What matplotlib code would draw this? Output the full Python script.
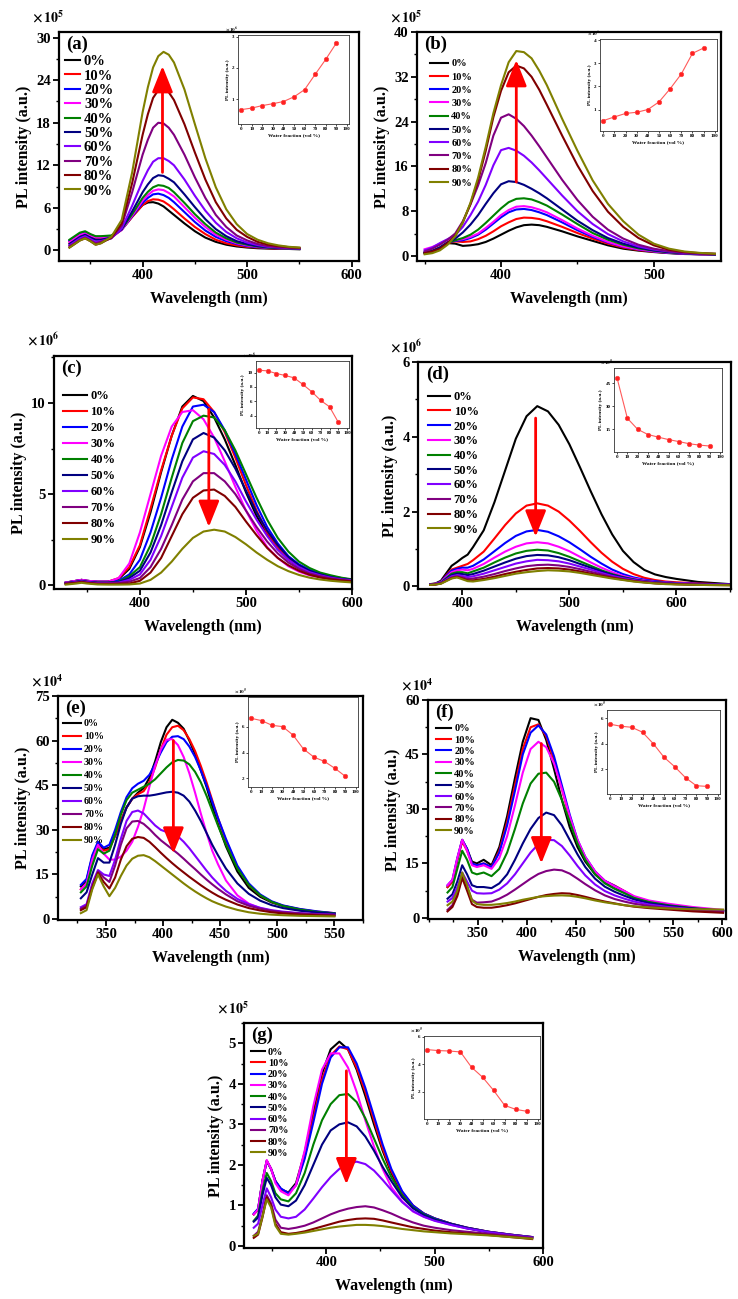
import matplotlib
matplotlib.use('Agg')
import matplotlib.pyplot as plt
from matplotlib.ticker import MultipleLocator, FixedLocator

plt.rcParams['font.family'] = ['Liberation Serif', 'DejaVu Serif']
plt.rcParams['font.weight'] = 'bold'
plt.rcParams['axes.labelweight'] = 'bold'
plt.rcParams['mathtext.fontset'] = 'stix'

W, H = 738, 1299

fractions = ['0%', '10%', '20%', '30%', '40%', '50%', '60%', '70%', '80%', '90%']
water = [0, 10, 20, 30, 40, 50, 60, 70, 80, 90]
colors = ['#000000', '#ff0000', '#0000ff', '#ff00ff', '#008000',
          '#000080', '#8000ff', '#800080', '#800000', '#808000']

# ---- panel (a), x 1e5 ----
wl_a = [330, 335, 340, 345, 350, 355, 360, 370, 380, 390, 400, 405, 410, 415, 420, 425,
        430, 440, 450, 460, 470, 480, 490, 500, 510, 520, 530, 540, 550]
spec_a = [
    [1.3, 1.8, 2.3, 2.5, 2.2, 1.9, 1.9, 2.0, 3.0, 4.8, 6.4, 6.75, 6.8, 6.6, 6.2, 5.6, 5.0, 3.8, 2.7, 1.8, 1.2, 0.8, 0.55, 0.4, 0.3, 0.25, 0.2, 0.2, 0.15],
    [1.0, 1.5, 2.0, 2.2, 1.9, 1.6, 1.6, 1.8, 2.9, 4.7, 6.4, 6.95, 7.2, 7.15, 6.9, 6.4, 5.8, 4.5, 3.3, 2.3, 1.5, 1.0, 0.7, 0.5, 0.4, 0.3, 0.25, 0.2, 0.2],
    [1.4, 1.9, 2.3, 2.5, 2.2, 1.9, 1.9, 2.0, 2.9, 4.8, 6.7, 7.4, 7.9, 8.0, 7.8, 7.4, 6.8, 5.4, 4.0, 2.8, 1.9, 1.3, 0.9, 0.6, 0.45, 0.35, 0.3, 0.25, 0.2],
    [1.2, 1.7, 2.2, 2.4, 2.1, 1.8, 1.8, 1.9, 2.9, 4.9, 7.0, 7.8, 8.4, 8.6, 8.5, 8.1, 7.6, 6.1, 4.6, 3.3, 2.2, 1.5, 1.0, 0.7, 0.5, 0.4, 0.3, 0.25, 0.2],
    [1.5, 2.0, 2.5, 2.7, 2.3, 2.0, 2.0, 2.1, 3.0, 5.1, 7.4, 8.25, 8.9, 9.2, 9.1, 8.8, 8.2, 6.7, 5.1, 3.7, 2.5, 1.7, 1.1, 0.8, 0.55, 0.4, 0.3, 0.25, 0.2],
    [0.9, 1.4, 1.9, 2.2, 1.8, 1.5, 1.5, 1.8, 3.0, 5.5, 8.2, 9.3, 10.2, 10.6, 10.5, 10.1, 9.6, 7.9, 6.1, 4.4, 3.0, 2.0, 1.3, 0.9, 0.6, 0.45, 0.35, 0.3, 0.25],
    [0.7, 1.2, 1.7, 2.0, 1.6, 1.2, 1.3, 1.7, 3.1, 6.3, 9.8, 11.3, 12.5, 13.0, 13.0, 12.6, 12.0, 10.0, 7.7, 5.6, 3.9, 2.6, 1.7, 1.1, 0.75, 0.5, 0.4, 0.3, 0.25],
    [0.6, 1.0, 1.5, 1.8, 1.4, 1.0, 1.2, 1.7, 3.5, 8.2, 13.5, 15.6, 17.3, 18.0, 17.9, 17.3, 16.3, 13.5, 10.3, 7.4, 5.0, 3.3, 2.1, 1.4, 0.9, 0.6, 0.45, 0.35, 0.3],
    [0.4, 0.9, 1.4, 1.7, 1.3, 0.8, 1.0, 1.8, 3.8, 9.5, 16.3, 19.2, 21.5, 22.6, 22.8, 22.3, 21.2, 17.8, 13.8, 10.0, 6.8, 4.5, 2.9, 1.9, 1.2, 0.8, 0.6, 0.45, 0.35],
    [0.4, 0.9, 1.4, 1.7, 1.3, 0.8, 1.0, 1.9, 4.3, 11.0, 19.5, 23.0, 25.8, 27.4, 28.0, 27.6, 26.5, 22.7, 17.8, 13.0, 8.9, 5.8, 3.7, 2.3, 1.5, 1.0, 0.7, 0.5, 0.4],
]
inset_a = [0.66, 0.71, 0.79, 0.85, 0.92, 1.07, 1.30, 1.79, 2.27, 2.79]
arrow_a = (419, 11.0, 26.0)

# ---- panel (b), x 1e5 ----
wl_b = [350, 355, 360, 365, 370, 375, 380, 385, 390, 395, 400, 405, 410, 415, 420, 425,
        430, 440, 450, 460, 470, 480, 490, 500, 510, 520, 530, 540]
spec_b = [
    [0.5, 0.8, 1.4, 2.3, 2.2, 1.8, 1.9, 2.1, 2.5, 3.1, 3.8, 4.5, 5.1, 5.5, 5.6, 5.5, 5.2, 4.4, 3.5, 2.7, 1.9, 1.3, 0.95, 0.7, 0.5, 0.35, 0.3, 0.25],
    [0.5, 0.8, 1.4, 2.3, 2.6, 2.5, 2.6, 3.0, 3.6, 4.4, 5.3, 6.0, 6.6, 6.85, 6.8, 6.6, 6.2, 5.2, 4.1, 3.1, 2.2, 1.5, 1.05, 0.75, 0.55, 0.4, 0.3, 0.25],
    [0.6, 0.9, 1.5, 2.4, 2.7, 2.8, 3.2, 3.8, 4.7, 5.8, 6.9, 7.8, 8.3, 8.4, 8.2, 7.8, 7.3, 6.0, 4.6, 3.4, 2.4, 1.65, 1.15, 0.8, 0.55, 0.4, 0.3, 0.25],
    [1.2, 1.6, 2.2, 2.9, 2.8, 3.0, 3.4, 4.0, 5.0, 6.1, 7.3, 8.2, 8.8, 8.9, 8.7, 8.3, 7.8, 6.4, 4.9, 3.6, 2.5, 1.7, 1.2, 0.85, 0.6, 0.45, 0.35, 0.3],
    [0.6, 0.9, 1.5, 2.4, 2.8, 3.2, 3.8, 4.7, 5.9, 7.2, 8.5, 9.6, 10.2, 10.3, 10.1, 9.6, 9.0, 7.4, 5.7, 4.1, 2.9, 2.0, 1.35, 0.95, 0.65, 0.5, 0.4, 0.3],
    [0.6, 0.9, 1.5, 2.4, 3.1, 4.2, 5.6, 7.3, 9.3, 11.2, 12.8, 13.35, 13.2, 12.7, 12.0, 11.2, 10.3, 8.3, 6.3, 4.6, 3.2, 2.2, 1.5, 1.0, 0.7, 0.5, 0.4, 0.3],
    [1.0, 1.5, 2.3, 3.0, 3.7, 5.2, 7.3, 9.7, 12.7, 16.2, 18.9, 19.3, 18.8, 17.9, 16.7, 15.3, 13.8, 10.8, 8.0, 5.7, 3.9, 2.6, 1.7, 1.15, 0.8, 0.55, 0.4, 0.35],
    [0.8, 1.3, 2.0, 2.9, 4.0, 6.2, 9.2, 12.6, 16.6, 21.5, 24.7, 25.3, 24.5, 23.2, 21.5, 19.6, 17.6, 13.6, 10.0, 7.0, 4.7, 3.1, 2.0, 1.3, 0.85, 0.6, 0.45, 0.35],
    [0.5, 0.8, 1.3, 2.3, 3.6, 6.0, 9.3, 13.5, 18.8, 24.8, 29.5, 32.8, 34.0, 33.5, 32.0, 29.7, 27.0, 21.5, 16.2, 11.6, 7.9, 5.2, 3.2, 1.9, 1.1, 0.7, 0.5, 0.4],
    [0.3, 0.5, 1.0, 2.0, 3.5, 6.0, 9.5, 14.0, 19.5, 25.5, 30.5, 34.6, 36.6, 36.4, 35.3, 33.1, 30.5, 24.5, 18.8, 13.5, 9.3, 6.2, 3.8, 2.2, 1.3, 0.8, 0.55, 0.4],
]
inset_b = [0.52, 0.68, 0.83, 0.88, 1.0, 1.33, 1.9, 2.54, 3.43, 3.66]
arrow_b = (410, 13.2, 35.0)

# ---- panel (c), x 1e6 ----
wl_c = [330, 340, 345, 350, 360, 370, 380, 390, 400, 410, 420, 430, 440, 450, 460,
        470, 480, 490, 500, 510, 520, 530, 540, 550, 560, 570, 580, 590, 600]
spec_c = [
    [0.15, 0.25, 0.3, 0.25, 0.2, 0.2, 0.35, 0.9, 2.1, 4.0, 6.2, 8.2, 9.8, 10.38, 10.1, 9.2, 8.0, 6.6, 5.1, 3.8, 2.8, 2.0, 1.4, 1.0, 0.75, 0.6, 0.45, 0.35, 0.3],
    [0.15, 0.25, 0.3, 0.25, 0.2, 0.2, 0.4, 1.0, 2.2, 4.2, 6.3, 8.2, 9.7, 10.3, 10.2, 9.5, 8.4, 7.0, 5.5, 4.1, 2.9, 2.1, 1.5, 1.05, 0.8, 0.6, 0.45, 0.35, 0.3],
    [0.15, 0.25, 0.3, 0.25, 0.2, 0.2, 0.25, 0.6, 1.4, 2.9, 4.8, 6.9, 8.7, 9.8, 9.9, 9.5, 8.5, 7.2, 5.8, 4.4, 3.2, 2.3, 1.6, 1.15, 0.85, 0.65, 0.5, 0.4, 0.3],
    [0.15, 0.25, 0.3, 0.25, 0.2, 0.2, 0.4, 1.2, 2.9, 5.0, 7.1, 8.7, 9.5, 9.6, 9.1, 8.1, 6.8, 5.4, 4.1, 3.0, 2.1, 1.5, 1.05, 0.75, 0.55, 0.45, 0.35, 0.3, 0.25],
    [0.12, 0.2, 0.25, 0.2, 0.15, 0.15, 0.2, 0.5, 1.0, 2.2, 3.9, 5.9, 7.8, 9.0, 9.3, 9.2, 8.5, 7.4, 6.1, 4.8, 3.6, 2.6, 1.85, 1.3, 0.95, 0.7, 0.55, 0.42, 0.33],
    [0.12, 0.2, 0.25, 0.2, 0.15, 0.15, 0.18, 0.4, 0.8, 1.8, 3.3, 5.1, 6.8, 8.0, 8.35, 8.1, 7.4, 6.4, 5.2, 4.0, 3.0, 2.2, 1.55, 1.1, 0.8, 0.6, 0.45, 0.35, 0.3],
    [0.1, 0.18, 0.22, 0.18, 0.12, 0.12, 0.15, 0.3, 0.6, 1.4, 2.7, 4.3, 5.9, 7.0, 7.35, 7.2, 6.6, 5.7, 4.6, 3.6, 2.7, 1.95, 1.4, 1.0, 0.72, 0.55, 0.42, 0.33, 0.28],
    [0.1, 0.15, 0.2, 0.15, 0.1, 0.1, 0.12, 0.2, 0.4, 1.0, 2.0, 3.3, 4.7, 5.7, 6.15, 6.15, 5.7, 5.0, 4.1, 3.2, 2.4, 1.75, 1.25, 0.9, 0.65, 0.5, 0.38, 0.3, 0.25],
    [0.08, 0.14, 0.18, 0.14, 0.08, 0.08, 0.08, 0.1, 0.25, 0.7, 1.5, 2.7, 3.9, 4.8, 5.2, 5.25, 4.9, 4.3, 3.5, 2.75, 2.05, 1.5, 1.1, 0.8, 0.58, 0.43, 0.33, 0.27, 0.22],
    [0.04, 0.1, 0.14, 0.1, 0.05, 0.04, 0.04, 0.05, 0.1, 0.3, 0.7, 1.3, 2.0, 2.6, 2.95, 3.05, 2.95, 2.65, 2.25, 1.8, 1.4, 1.05, 0.78, 0.57, 0.42, 0.32, 0.25, 0.2, 0.16],
]
inset_c = [10.32, 10.23, 9.86, 9.59, 9.26, 8.34, 7.33, 6.13, 5.25, 3.08]
arrow_c = (465, 9.65, 3.2)

# ---- panel (d), x 1e6 ----
wl_d = [370, 375, 380, 385, 390, 395, 400, 405, 410, 420, 430, 440, 450, 460, 470,
        480, 490, 500, 510, 520, 530, 540, 550, 560, 570, 580, 590, 600, 620, 650]
spec_d = [
    [0.06, 0.08, 0.15, 0.35, 0.55, 0.65, 0.76, 0.85, 1.05, 1.5, 2.25, 3.1, 3.95, 4.55, 4.82, 4.68, 4.32, 3.80, 3.18, 2.54, 1.93, 1.39, 0.95, 0.65, 0.44, 0.32, 0.25, 0.2, 0.12, 0.06],
    [0.05, 0.07, 0.12, 0.3, 0.45, 0.5, 0.55, 0.6, 0.7, 0.93, 1.28, 1.64, 1.95, 2.16, 2.22, 2.16, 2.0, 1.76, 1.48, 1.18, 0.9, 0.66, 0.47, 0.33, 0.23, 0.17, 0.13, 0.11, 0.08, 0.05],
    [0.05, 0.07, 0.12, 0.28, 0.42, 0.47, 0.5, 0.5, 0.55, 0.72, 0.94, 1.16, 1.35, 1.47, 1.51, 1.46, 1.34, 1.18, 0.99, 0.79, 0.61, 0.45, 0.33, 0.24, 0.18, 0.14, 0.11, 0.09, 0.07, 0.05],
    [0.05, 0.07, 0.11, 0.25, 0.38, 0.43, 0.45, 0.43, 0.47, 0.6, 0.77, 0.93, 1.06, 1.15, 1.18, 1.15, 1.06, 0.94, 0.79, 0.64, 0.5, 0.38, 0.28, 0.21, 0.16, 0.12, 0.1, 0.08, 0.06, 0.04],
    [0.05, 0.06, 0.1, 0.22, 0.34, 0.38, 0.38, 0.35, 0.4, 0.5, 0.64, 0.77, 0.88, 0.95, 0.98, 0.96, 0.89, 0.79, 0.67, 0.55, 0.43, 0.33, 0.25, 0.19, 0.14, 0.11, 0.09, 0.07, 0.05, 0.04],
    [0.05, 0.06, 0.09, 0.2, 0.3, 0.34, 0.33, 0.3, 0.33, 0.42, 0.53, 0.64, 0.74, 0.81, 0.84, 0.83, 0.78, 0.7, 0.6, 0.5, 0.4, 0.31, 0.24, 0.18, 0.14, 0.11, 0.09, 0.07, 0.05, 0.04],
    [0.05, 0.06, 0.09, 0.18, 0.27, 0.3, 0.28, 0.25, 0.27, 0.34, 0.43, 0.52, 0.61, 0.67, 0.71, 0.7, 0.67, 0.61, 0.53, 0.45, 0.36, 0.28, 0.22, 0.17, 0.13, 0.1, 0.08, 0.07, 0.05, 0.04],
    [0.04, 0.05, 0.08, 0.16, 0.24, 0.27, 0.24, 0.2, 0.21, 0.26, 0.33, 0.41, 0.48, 0.54, 0.57, 0.58, 0.56, 0.52, 0.46, 0.39, 0.32, 0.25, 0.2, 0.15, 0.12, 0.09, 0.07, 0.06, 0.05, 0.04],
    [0.04, 0.05, 0.08, 0.15, 0.22, 0.25, 0.21, 0.16, 0.16, 0.2, 0.26, 0.33, 0.39, 0.44, 0.48, 0.49, 0.48, 0.45, 0.4, 0.34, 0.28, 0.23, 0.18, 0.14, 0.11, 0.08, 0.07, 0.06, 0.04, 0.03],
    [0.04, 0.05, 0.07, 0.14, 0.21, 0.24, 0.19, 0.14, 0.13, 0.17, 0.22, 0.28, 0.34, 0.38, 0.41, 0.43, 0.42, 0.4, 0.36, 0.31, 0.26, 0.21, 0.17, 0.13, 0.1, 0.08, 0.06, 0.05, 0.04, 0.03],
]
inset_d = [48.4, 22.2, 15.0, 11.6, 9.9, 8.3, 7.0, 5.6, 4.7, 4.1]
arrow_d = (468.5, 4.5, 1.33)

# ---- panel (e), x 1e4 ----
wl_e = [328, 333, 338, 343, 348, 353, 358, 363, 368, 373, 378, 383, 388, 393, 398,
        403, 408, 413, 418, 423, 428, 433, 438, 443, 448, 455, 465, 475, 485, 495,
        505, 520, 535, 550]
spec_e = [
    [11, 13, 21, 25.5, 23.5, 24, 28, 33, 37.5, 40.5, 42.5, 44, 47.5, 53, 59.5, 64.5, 67, 66, 64, 60, 55.5, 50, 44.5, 38, 32, 24.5, 16, 10.5, 7.5, 5.6, 4.4, 3.2, 2.4, 1.9],
    [10, 12, 20, 24.5, 23, 23.5, 28, 33, 37.5, 40.5, 42, 43, 46, 51, 57, 62, 64.5, 65, 63.5, 60.5, 56.5, 51.5, 46, 40, 34, 26.5, 17.5, 11.5, 8, 5.8, 4.5, 3.3, 2.5, 2.0],
    [11.5, 13.5, 21.5, 26, 24, 25, 30, 36, 41, 44, 45.5, 46.5, 48.5, 52, 56, 59.5, 61.3, 61.5, 60.5, 58, 54.5, 50, 45, 39.5, 34, 27, 18, 12, 8.3, 6, 4.6, 3.4, 2.6, 2.0],
    [10, 12, 20, 25, 22, 20, 20, 21, 23, 26, 31, 37, 44.5, 51.5, 57, 60.3, 60.5, 58.5, 54.5, 49, 42.5, 35.5, 29, 23, 18.5, 13, 8, 5.2, 3.7, 2.8, 2.2, 1.8, 1.5, 1.3],
    [9, 11, 18, 23.5, 22, 23, 28.5, 35, 40, 42.5, 43.5, 44.5, 45.5, 47, 49, 51, 52.7, 53.5, 53.3, 52, 49.5, 46, 41.5, 36.5, 31.5, 25, 17, 11.5, 8, 5.8, 4.4, 3.2, 2.4, 1.9],
    [7, 9, 15, 20.5, 19, 19, 25, 32, 37.5, 40.5, 41.3, 41.5, 41.5, 41.8, 42.2, 42.6, 42.8, 42.5, 41.5, 39.5, 36.5, 33, 29, 25, 21.5, 17, 12, 8.5, 6.2, 4.7, 3.7, 2.8, 2.2, 1.8],
    [4, 5, 12, 16.5, 15, 14.5, 20, 27, 33, 36, 36.5, 35.5, 33.5, 31.5, 30, 29.3, 28.8, 27.8, 26, 23.8, 21.3, 18.8, 16.3, 14, 12, 9.5, 6.8, 5, 3.8, 3, 2.5, 2.0, 1.7, 1.5],
    [3.5, 4.5, 11, 16, 14, 12.5, 18, 25, 30.5, 32.8, 33, 32, 30.3, 28.3, 26.5, 25, 23.5, 22, 20.3, 18.5, 16.8, 15, 13.3, 11.7, 10.2, 8.3, 6, 4.5, 3.5, 2.8, 2.3, 1.9, 1.6, 1.4],
    [3, 4, 10.5, 15.5, 12.5, 10.3, 14, 20, 24.5, 27, 27.6, 27.3, 26, 24.2, 22.3, 20.5, 18.8, 17.2, 15.7, 14.2, 12.8, 11.4, 10.1, 8.9, 7.8, 6.5, 4.9, 3.7, 2.9, 2.3, 1.9, 1.5, 1.3, 1.1],
    [2, 3, 10, 15, 11, 7.7, 10.5, 14.5, 18, 20.3, 21.3, 21.5, 20.8, 19.5, 18, 16.5, 15, 13.5, 12, 10.6, 9.3, 8.1, 7, 6, 5.2, 4.2, 3.1, 2.3, 1.8, 1.5, 1.3, 1.1, 1.0, 0.9],
]
inset_e = [6.68, 6.50, 6.13, 6.03, 5.37, 4.27, 3.64, 3.30, 2.76, 2.13]
arrow_e = (409, 60.0, 22.0)

# ---- panel (f), x 1e4 ----
wl_f = [319, 324, 329, 334, 339, 344, 349, 356, 364, 372, 380, 388, 396, 404, 412,
        420, 428, 436, 444, 452, 460, 470, 480, 490, 500, 510, 525, 545, 570, 601]
spec_f = [
    [8.5, 10, 16, 21.5, 19, 15.5, 15, 16, 14.5, 19.5, 28, 38.5, 48.5, 55, 54.5, 49, 41, 32.5, 25, 19.5, 15.5, 12, 9.8, 8.6, 7.2, 5.5, 4.3, 3.4, 2.6, 1.8],
    [8.5, 10, 16, 21, 18.5, 15, 14.5, 15, 14, 18.5, 26.5, 36.5, 46.5, 52.5, 53.3, 50, 43.5, 35.5, 27.5, 21, 16.5, 12.7, 10.2, 8.9, 7.4, 5.8, 4.6, 3.7, 2.8, 2.0],
    [9, 10.5, 16.5, 21.5, 19, 15, 14.5, 15, 14, 18, 25.5, 35, 45, 51, 53, 50.5, 44.5, 36.5, 28.5, 21.5, 16.8, 12.8, 10.2, 8.8, 7.3, 5.7, 4.5, 3.6, 2.7, 1.9],
    [9, 10.5, 16.5, 21.5, 18.5, 14.5, 14, 14.5, 13.5, 16.5, 22.5, 31, 40, 46.5, 48.5, 47, 42.5, 35.5, 28, 21.5, 16.8, 12.8, 10.2, 8.7, 7.4, 6, 4.8, 3.9, 3.0, 2.2],
    [7, 8.5, 13.5, 18.5, 16, 12.5, 12, 12.5, 11.5, 13.5, 18, 24.5, 31.5, 37, 39.7, 40, 37.5, 32.5, 26.5, 20.5, 16, 12, 9.5, 8, 6.8, 5.5, 4.4, 3.5, 2.7, 2.0],
    [5.3, 6.5, 10, 14.5, 12, 9, 8.5, 8.5, 8.2, 9.5, 12, 16, 20.5, 24.5, 27.5, 29, 28.3, 25.5, 21.5, 17.5, 14, 10.8, 8.6, 7.2, 6.1, 5.1, 4.1, 3.3, 2.6, 1.9],
    [4.5, 5.5, 8.5, 12.5, 10, 7.5, 6.8, 6.7, 6.8, 7.8, 9.5, 12, 15, 18, 20.3, 21.5, 21.4, 19.8, 17.2, 14.3, 11.7, 9.2, 7.4, 6.2, 5.3, 4.5, 3.7, 3.0, 2.4, 1.8],
    [2.2, 3.5, 6.5, 11.5, 8.5, 5, 4.2, 4.3, 4.5, 5.3, 6.4, 7.8, 9.3, 10.8, 12.1, 12.9, 13.3, 13.1, 12.2, 10.8, 9.3, 7.6, 6.2, 5.2, 4.5, 3.9, 3.3, 2.7, 2.2, 1.7],
    [1.8, 3, 6, 11, 7.5, 3.8, 3, 2.8, 2.8, 3.1, 3.5, 4.0, 4.6, 5.2, 5.8, 6.3, 6.6, 6.8, 6.7, 6.3, 5.8, 5.1, 4.5, 4.0, 3.5, 3.1, 2.7, 2.3, 1.8, 1.4],
    [3.5, 4.5, 7.5, 12.5, 9, 4.8, 3.8, 3.6, 3.6, 3.8, 4.1, 4.5, 5.0, 5.4, 5.8, 6.0, 6.15, 6.2, 6.1, 5.8, 5.4, 4.8, 4.3, 3.9, 3.5, 3.2, 2.9, 2.6, 2.4, 2.3],
]
inset_f = [5.53, 5.37, 5.29, 4.90, 4.0, 2.93, 2.18, 1.32, 0.69, 0.64]
arrow_f = (415, 48.0, 15.0)

# ---- panel (g), x 1e5 ----
wl_g = [333, 337, 341, 345, 349, 353, 358, 365, 372, 380, 388, 396, 404, 412, 420,
        428, 436, 444, 452, 460, 470, 480, 490, 500, 515, 530, 550, 570, 590]
spec_g = [
    [0.78, 0.9, 1.6, 2.1, 1.9, 1.6, 1.4, 1.32, 1.55, 2.3, 3.3, 4.25, 4.85, 5.04, 4.85, 4.35, 3.7, 3.0, 2.35, 1.8, 1.3, 0.98, 0.8, 0.68, 0.55, 0.45, 0.35, 0.28, 0.22],
    [0.78, 0.9, 1.6, 2.1, 1.9, 1.6, 1.4, 1.3, 1.5, 2.2, 3.15, 4.1, 4.7, 4.92, 4.85, 4.4, 3.8, 3.1, 2.4, 1.85, 1.33, 1.0, 0.8, 0.68, 0.55, 0.45, 0.35, 0.28, 0.22],
    [0.8, 0.92, 1.6, 2.1, 1.9, 1.6, 1.42, 1.3, 1.5, 2.15, 3.05, 4.0, 4.65, 4.9, 4.9, 4.5, 3.9, 3.2, 2.5, 1.9, 1.35, 1.0, 0.8, 0.68, 0.55, 0.45, 0.35, 0.28, 0.22],
    [0.78, 0.9, 1.6, 2.12, 1.9, 1.55, 1.35, 1.25, 1.5, 2.35, 3.45, 4.35, 4.75, 4.75, 4.4, 3.8, 3.1, 2.45, 1.9, 1.45, 1.1, 0.85, 0.72, 0.63, 0.52, 0.43, 0.34, 0.27, 0.21],
    [0.62, 0.75, 1.35, 1.8, 1.6, 1.3, 1.15, 1.1, 1.3, 1.8, 2.5, 3.1, 3.5, 3.72, 3.75, 3.55, 3.15, 2.65, 2.15, 1.7, 1.25, 0.95, 0.78, 0.66, 0.54, 0.44, 0.34, 0.27, 0.21],
    [0.6, 0.7, 1.25, 1.68, 1.5, 1.2, 1.02, 0.98, 1.12, 1.5, 2.0, 2.5, 2.85, 3.0, 3.05, 2.95, 2.7, 2.35, 1.95, 1.6, 1.2, 0.93, 0.76, 0.65, 0.54, 0.44, 0.34, 0.27, 0.21],
    [0.45, 0.55, 1.0, 1.42, 1.2, 0.9, 0.72, 0.68, 0.72, 0.9, 1.17, 1.45, 1.7, 1.9, 2.03, 2.08, 2.02, 1.86, 1.63, 1.38, 1.08, 0.86, 0.72, 0.62, 0.52, 0.43, 0.34, 0.27, 0.21],
    [0.25, 0.35, 0.75, 1.25, 1.05, 0.65, 0.45, 0.42, 0.45, 0.5, 0.58, 0.68, 0.78, 0.86, 0.92, 0.96, 0.98, 0.95, 0.88, 0.8, 0.68, 0.58, 0.5, 0.45, 0.39, 0.35, 0.3, 0.25, 0.2],
    [0.2, 0.28, 0.7, 1.2, 1.0, 0.55, 0.34, 0.3, 0.32, 0.36, 0.42, 0.48, 0.54, 0.6, 0.64, 0.67, 0.68, 0.67, 0.63, 0.58, 0.52, 0.46, 0.42, 0.38, 0.34, 0.31, 0.27, 0.22, 0.17],
    [0.25, 0.3, 0.72, 1.15, 0.95, 0.5, 0.3, 0.28, 0.3, 0.33, 0.37, 0.41, 0.45, 0.48, 0.5, 0.52, 0.52, 0.51, 0.49, 0.46, 0.42, 0.39, 0.36, 0.34, 0.31, 0.29, 0.26, 0.22, 0.18],
]
inset_g = [5.06, 4.99, 4.96, 4.89, 3.78, 3.06, 2.10, 1.01, 0.72, 0.58]
arrow_g = (418.5, 4.32, 1.52)


def px_rect(l, t, r, b):
    return [l / W, 1 - b / H, (r - l) / W, (b - t) / H]


# leg = (fontsize, labelspacing, handlelength, x offset px, y offset px)
panels = [
    dict(tag='(a)', wl=wl_a, spec=spec_a, ins=inset_a, arrow=arrow_a,
         rect=(59, 32, 359, 261), xlim=(320, 607), ylim=(-1.5, 30.8),
         xt=[400, 500, 600], xm=50, yt=[0, 6, 12, 18, 24, 30], ym=3, exp=5,
         leg=(10.5, 0.08, 1.0, 6, 23), irect=(238, 35, 349, 124),
         iylim=(0.2, 3.05), iyt=[1, 2, 3], iexp=6),
    dict(tag='(b)', wl=wl_b, spec=spec_b, ins=inset_b, arrow=arrow_b,
         rect=(417, 32, 721, 261), xlim=(345, 544), ylim=(-0.9, 40),
         xt=[400, 500], xm=50, yt=[0, 8, 16, 24, 32, 40], ym=4, exp=5,
         leg=(7.5, 0.38, 1.75, 13, 27), irect=(600, 39, 717, 131),
         iylim=(0.07, 4.05), iyt=[1, 2, 3, 4], iexp=6),
    dict(tag='(c)', wl=wl_c, spec=spec_c, ins=inset_c, arrow=arrow_c,
         rect=(54, 356, 352, 589), xlim=(319, 600), ylim=(-0.2, 12.57),
         xt=[400, 500, 600], xm=50, yt=[0, 5, 10], ym=2.5, exp=6,
         leg=(9, 0.32, 1.9, 9, 34), irect=(256, 361, 349, 428),
         iylim=(2.3, 11.6), iyt=[4, 6, 8, 10], iexp=6),
    dict(tag='(d)', wl=wl_d, spec=spec_d, ins=inset_d, arrow=arrow_d,
         rect=(418, 362, 731, 589), xlim=(358.6, 651), ylim=(-0.07, 6.0),
         xt=[400, 500, 600], xm=50, yt=[0, 2, 4, 6], ym=1, exp=6,
         leg=(9, 0.22, 1.75, 10, 29), irect=(614, 368, 722, 452),
         iylim=(0.2, 55), iyt=[15, 30, 45], iexp=5),
    dict(tag='(e)', wl=wl_e, spec=spec_e, ins=inset_e, arrow=arrow_e,
         rect=(58, 696, 363, 920), xlim=(308, 575), ylim=(-0.3, 75),
         xt=[350, 400, 450, 500, 550], xm=25, yt=[0, 15, 30, 45, 60, 75], ym=7.5, exp=4,
         leg=(7.2, 0.4, 1.8, 5, 23), irect=(248, 697, 358, 787),
         iylim=(1.3, 8.35), iyt=[2, 4, 6], iexp=5),
    dict(tag='(f)', wl=wl_f, spec=spec_f, ins=inset_f, arrow=arrow_f,
         rect=(428, 700, 726, 919), xlim=(299, 604), ylim=(-0.3, 60),
         xt=[350, 400, 450, 500, 550, 600], xm=25, yt=[0, 15, 30, 45, 60], ym=7.5, exp=4,
         leg=(7.5, 0.2, 1.45, 8, 24), irect=(607, 710, 720, 794),
         iylim=(0.04, 6.65), iyt=[2, 4, 6], iexp=5),
    dict(tag='(g)', wl=wl_g, spec=spec_g, ins=inset_g, arrow=arrow_g,
         rect=(244, 1023, 543, 1248), xlim=(324, 600), ylim=(-0.05, 5.5),
         xt=[400, 500, 600], xm=50, yt=[0, 1, 2, 3, 4, 5], ym=0.5, exp=5,
         leg=(7.4, 0.2, 1.35, 7, 24.5), irect=(424, 1036, 540, 1119),
         iylim=(0.02, 6.05), iyt=[2, 4, 6], iexp=5),
]

fig = plt.figure(figsize=(W / 100, H / 100), dpi=100)

for p in panels:
    l, t, r, b = p['rect']
    ax = fig.add_axes(px_rect(l, t, r, b))
    for vals, lab, col in zip(p['spec'], fractions, colors):
        ax.plot(p['wl'], vals, color=col, lw=1.5, label=lab)
    ax.set_xlim(p['xlim'])
    ax.set_ylim(p['ylim'])
    ax.xaxis.set_major_locator(FixedLocator(p['xt']))
    ax.xaxis.set_minor_locator(MultipleLocator(p['xm']))
    ax.yaxis.set_major_locator(FixedLocator(p['yt']))
    ax.yaxis.set_minor_locator(MultipleLocator(p['ym']))
    ax.tick_params(which='major', direction='out', length=4, width=1.3, labelsize=10.5, pad=2)
    ax.tick_params(which='minor', direction='out', length=2.5, width=1.0)
    ax.tick_params(top=False, right=False)
    for s in ax.spines.values():
        s.set_linewidth(1.6)
    ax.set_xlabel('Wavelength (nm)', fontsize=11.5, labelpad=6)
    ax.set_ylabel('PL intensity (a.u.)', fontsize=11.5, labelpad=3)
    ax.text(-0.09, 1.03, r'$\times\,10^{%d}$' % p['exp'], transform=ax.transAxes,
            fontsize=10, ha='left', va='bottom')
    ax.text(0.025, 0.985, p['tag'], transform=ax.transAxes, fontsize=13.5,
            fontweight='bold', ha='left', va='top')

    fs, ls, hl, dx, dy = p['leg']
    wpx, hpx = r - l, b - t
    ax.legend(loc='upper left', bbox_to_anchor=(dx / wpx, 1 - dy / hpx), frameon=False,
              labelspacing=ls, handlelength=hl, handletextpad=0.3,
              borderpad=0, borderaxespad=0, prop={'weight': 'bold', 'size': fs})

    x0, y1, y2 = p['arrow']
    ax.annotate('', xy=(x0, y2), xytext=(x0, y1),
                arrowprops=dict(arrowstyle='-|>,head_length=1.0,head_width=0.4',
                                color='red', lw=2, mutation_scale=16,
                                shrinkA=0, shrinkB=0))

    # inset: peak intensity versus water fraction
    il, it, ir, ib = p['irect']
    ai = fig.add_axes(px_rect(il, it, ir, ib))
    ai.plot(water, p['ins'], '-o', color='#ff5a5a', lw=0.8, ms=3.2,
            mfc='#ff2020', mec='#ff4040', mew=0.5)
    ai.set_xlim(-3, 102)
    ai.set_ylim(p['iylim'])
    ai.set_xticks(range(0, 101, 10))
    ai.set_yticks(p['iyt'])
    ai.tick_params(labelsize=3.6, length=1.5, width=0.5, pad=1, direction='out')
    for s in ai.spines.values():
        s.set_linewidth(0.6)
        s.set_color('#333333')
    ai.set_xlabel('Water fraction (vol %)', fontsize=3.8, labelpad=1.5)
    ai.set_ylabel('PL intensity (a.u.)', fontsize=3.8, labelpad=1.5)
    ai.text(0.0, 1.01, r'$\times\,10^{%d}$' % p['iexp'], transform=ai.transAxes,
            fontsize=3.8, ha='right', va='bottom')

fig.savefig('out.png', dpi=100)
